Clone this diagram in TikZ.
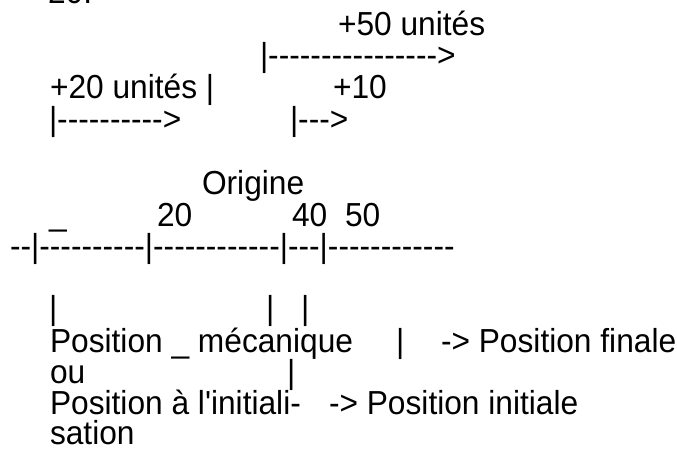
\documentclass[tikz,border=0pt]{standalone}
\usepackage{graphicx}
\usepackage{fontspec}
\setmainfont{Liberation Sans}[Ligatures=TeXOff]
\newcommand{\tallt}[1]{\scalebox{1}[1.05]{#1}}
\begin{document}
\begin{tikzpicture}[x=1pt,y=-1pt,
  txt/.style={anchor=base west, inner sep=0pt, outer sep=0pt, text height=21pt, text depth=3pt,
    font=\fontsize{31.7}{36}\selectfont}]
\clip (0,0) rectangle (677,450);
\node[txt] (t0)  at (48,3)     {\tallt{20.}};
\node[txt] (t1)  at (338,35)   {\tallt{+50 unités}};
\node[txt] (t2)  at (260,66)   {\tallt{|---------------->}};
\node[txt] (t3a) at (50,98)    {\tallt{+20 unités |}};
\node[txt] (t3b) at (333,98)   {\tallt{+10}};
\node[txt] (t4a) at (49,130)   {\tallt{|---------->}};
\node[txt] (t4b) at (290,130)  {\tallt{|--->}};
\node[txt] (t6)  at (202,194)  {\tallt{Origine}};
\node[txt] (t7a) at (49,225)   {\tallt{\_}};
\node[txt] (t7b) at (157,226)  {\tallt{20}};
\node[txt] (t7c) at (292,226)  {\tallt{40}};
\node[txt] (t7d) at (345,226)  {\tallt{50}};
\node[txt] (ax)  at (10,257)   {\tallt{--|----------|------------|---|------------}};
\node[txt] (b1)  at (49,319)   {\tallt{|}};
\node[txt] (b2)  at (266,319)  {\tallt{|}};
\node[txt] (b3)  at (301,319)  {\tallt{|}};
\node[txt] (p1)  at (50,352)   {\tallt{Position \_ mécanique}};
\node[txt] (p1b) at (396,352)  {\tallt{|}};
\node[txt] (p1c) at (441,352)  {\tallt{-> Position finale}};
\node[txt] (p2)  at (50,383)   {\tallt{ou}};
\node[txt] (p2b) at (287,383)  {\tallt{|}};
\node[txt] (p3)  at (50,414)   {\tallt{Position à l'initiali-}};
\node[txt] (p3b) at (329,414)  {\tallt{-> Position initiale}};
\node[txt] (p4)  at (50,444)   {\tallt{sation}};
\end{tikzpicture}
\end{document}
